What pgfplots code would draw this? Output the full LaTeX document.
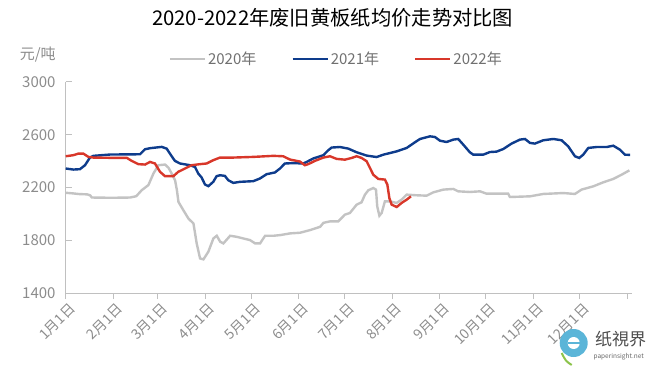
\documentclass[border=0pt]{standalone}
\usepackage{pgfplots}
\pgfplotsset{compat=1.18}
\usepackage{fontspec}
\setmainfont{Noto Sans CJK SC}
\definecolor{c20}{HTML}{C3C3C3}
\definecolor{c21}{HTML}{0E3C8C}
\definecolor{c22}{HTML}{D8372A}
\definecolor{axisgray}{HTML}{C0C0C0}
\definecolor{ticktext}{HTML}{8C8C8C}
\definecolor{legtext}{HTML}{707070}
\definecolor{logoblue}{HTML}{5BB5D8}
\definecolor{logogreen}{HTML}{8CC34B}
\begin{document}
\begin{tikzpicture}
\path[use as bounding box] (-65.7bp,-76bp) rectangle (586.3bp,293bp);
\begin{axis}[
  at={(0,0)}, anchor=south west, scale only axis,
  width=566bp, height=211bp,
  xmin=0, xmax=369, ymin=1400, ymax=3000,
  axis lines*=left,
  axis line style={draw=axisgray, line width=1bp, -},
  ytick={1400,1800,2200,2600,3000},
  xtick={0,31,60,91,121,152,182,213,244,274,305,335,366},
  xticklabels={1月1日,2月1日,3月1日,4月1日,5月1日,6月1日,7月1日,8月1日,9月1日,10月1日,11月1日,12月1日,{}},
  xtick align=outside, ytick align=inside,
  major tick length=6bp,
  tick style={draw=axisgray, line width=1bp},
  ticklabel style={font=\fontsize{15bp}{17bp}\selectfont, text=ticktext},
  /pgf/number format/assume math mode=true,
  /pgf/number format/1000 sep={},
  yticklabel style={anchor=east, inner sep=0pt, xshift=-10bp},
  xticklabel style={rotate=45, anchor=east, inner sep=0pt, xshift=0bp, yshift=-10bp, font=\fontsize{14bp}{16bp}\selectfont},
  legend columns=3,
  legend style={at={(0.478,1.109)}, anchor=center, draw=none, fill=none,
    font=\fontsize{15bp}{17bp}\selectfont, text=legtext,
    /tikz/every even column/.append style={column sep=33bp},
    nodes={inner sep=2bp}},
  legend image code/.code={\draw[#1] (0bp,0bp) -- (35bp,0bp);},
  clip=false,
]
\addplot[c20, line width=2.4bp] coordinates {
(0,2160)(5,2155)(9,2150)(14,2148)(16,2140)(17,2124)(30,2122)(42,2124)(46,2134)(49.6,2180)(53.9,2218)(57.2,2306)(60.4,2369)(64.8,2374)(67,2350)(69.1,2306)(71.3,2255)(72.5,2180)(73.5,2091)(76.7,2028)(80,1965)(83.3,1927)(85.4,1776)(87.6,1662)(89.8,1655)(93,1713)(96.3,1814)(98.5,1834)(100.7,1789)(102.8,1776)(107.2,1834)(111.5,1826)(120.2,1801)(123.5,1776)(126.7,1776)(130,1834)(135.4,1834)(139.8,1839)(146.3,1852)(152.8,1857)(159.3,1877)(165.9,1902)(168,1932)(172.3,1943)(177.7,1943)(182,1994)(185.3,2007)(189.7,2070)(192.9,2088)(195.1,2146)(197.3,2179)(200.5,2196)(202.3,2184)(203.1,2057)(204.5,1986)(206,2007)(208.1,2095)(211.4,2095)(215.7,2083)(219,2108)(222.3,2146)(228.8,2141)(235.3,2138)(239.6,2163)(246.2,2184)(252.7,2189)(255.9,2171)(263.5,2166)(270.1,2171)(274.4,2153)(288.5,2153)(289.6,2128)(302.7,2133)(311.3,2151)(324.4,2158)(332,2151)(336.3,2184)(344,2209)(350.4,2239)(357,2265)(362.4,2297)(367.5,2330)
};
\addlegendentry{2020年}
\addplot[c21, line width=2.4bp] coordinates {
(0,2344)(5,2336)(9.3,2339)(12.6,2369)(15.8,2427)(18,2440)(28.9,2450)(48.4,2452)(51.7,2490)(55,2498)(62.6,2508)(65.8,2495)(69.1,2437)(71.2,2402)(74.5,2382)(81,2369)(84.3,2356)(86.4,2306)(88.6,2276)(90.8,2223)(93,2210)(96.2,2243)(98.4,2286)(100.6,2293)(103.8,2288)(106,2255)(109.3,2235)(113.6,2243)(122.3,2248)(126.6,2268)(131,2301)(136.4,2314)(139.7,2344)(142.9,2382)(148.4,2385)(154.9,2382)(157.1,2394)(161.4,2420)(168,2445)(171.2,2483)(173.4,2503)(178.8,2507)(184.2,2495)(189.7,2467)(196.2,2442)(202.7,2431)(207.1,2449)(215.8,2474)(222.3,2500)(227.7,2543)(231,2568)(237.5,2588)(240.7,2583)(244,2555)(248.3,2545)(252.7,2563)(255.9,2568)(259.2,2525)(263.5,2467)(265.7,2449)(272.2,2449)(276.6,2469)(280.9,2472)(285.3,2492)(290.7,2533)(296.1,2563)(299.4,2568)(302.7,2538)(305.9,2533)(311.3,2558)(317.9,2568)(323.3,2558)(327.6,2512)(332,2437)(334.8,2424)(337.4,2449)(340.7,2500)(346.1,2507)(352.6,2507)(357,2517)(361.3,2487)(364.6,2449)(368,2447)
};
\addlegendentry{2021年}
\addplot[c22, line width=2.4bp] coordinates {
(0,2437)(5,2445)(8.3,2457)(11.5,2457)(14.8,2432)(18,2427)(28.9,2425)(39.8,2425)(43,2402)(47.3,2377)(51.7,2374)(55,2394)(58.2,2382)(61.5,2319)(64.7,2286)(70.2,2286)(73.4,2319)(77.8,2344)(82.1,2369)(87.5,2377)(91.9,2382)(96.2,2407)(100.6,2427)(109.3,2427)(122.3,2432)(135.3,2440)(141.8,2437)(146.2,2412)(152.7,2397)(155.9,2369)(158.1,2377)(162.5,2402)(168,2427)(172.3,2437)(176.6,2417)(182,2411)(186.4,2424)(189.7,2437)(192.9,2424)(196.2,2399)(198.4,2348)(200.5,2297)(203.8,2265)(208.1,2260)(209.7,2222)(211,2120)(212.5,2070)(215.8,2052)(219,2083)(222.3,2108)(225.1,2133)
};
\addlegendentry{2022年}
\end{axis}
\node[font=\fontsize{20.3bp}{23bp}\selectfont, text=black] at (267bp,275bp) {2020-2022年废旧黄板纸均价走势对比图};
\node[font=\fontsize{15bp}{17bp}\selectfont, text=ticktext] at (-28bp,238bp) {元/吨};
% watermark logo
\fill[logoblue] (508bp,-50bp) circle (14bp);
\fill[white] (508bp,-50bp) circle (6bp);
\fill[logoblue] (502bp,-51bp) rectangle (514bp,-49bp);
\draw[logogreen, line width=2bp] (496bp,-60bp) .. controls (500bp,-68bp) .. (506bp,-72bp);
\node[font=\fontsize{17bp}{19bp}\selectfont, text=black!70] at (555bp,-46bp) {纸視界};
\node[font=\fontsize{6.5bp}{8bp}\selectfont, text=black!60] at (553bp,-64bp) {paperinsight.net};
\end{tikzpicture}
\end{document}
